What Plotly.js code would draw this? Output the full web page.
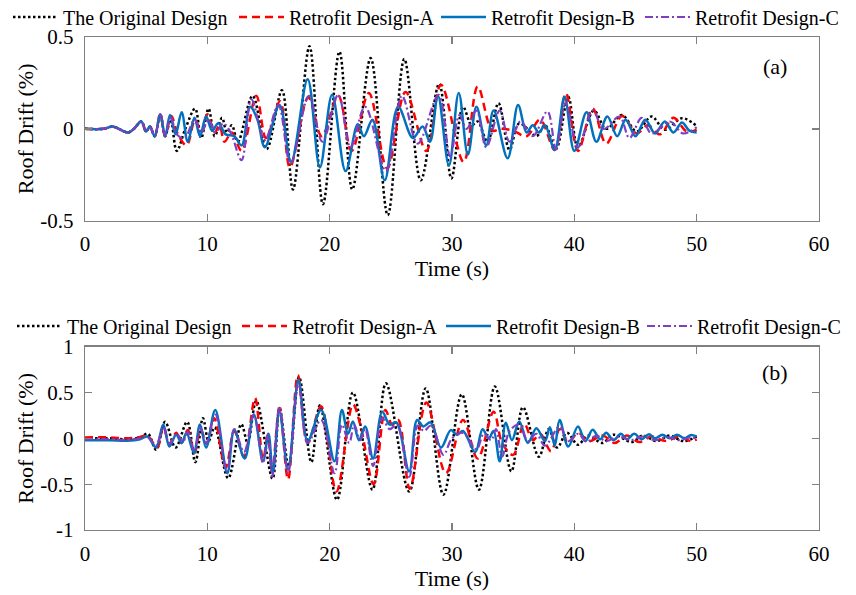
<!DOCTYPE html>
<html>
<head>
<meta charset="utf-8">
<script src="https://cdn.plot.ly/plotly-3.0.1.min.js"></script>
<style>html,body{margin:0;padding:0;background:#fff;}#chart{width:856px;height:595px;}</style>
</head>
<body>
<div id="chart"></div>
<script>
// ---------- (a) upper panel ----------
const topTimeOriginal = [0,1.5,2.3,3.5,4.0,4.6,5.0,5.3,5.7,6.15,6.55,7.0,7.5,8.2,9.0,9.5,10.1,10.6,11.2,11.6,12.0,12.5,13.7,14.85,16.1,17.0,18.35,19.45,20.8,21.85,23.35,24.75,26.1,27.45,28.95,29.95,30.9,31.6,32.1,32.9,33.8,34.7,35.5,36.9,37.6,38.5,39.5,40.3,41.6,42.6,43.9,45.1,46.3,47.4,48.8,50];
const topDriftOriginal = [0,0,0.012,-0.02,0,0.04,-0.015,0.013,-0.04,0.08,-0.04,0.05,-0.12,0.0,0.11,-0.05,0.11,-0.04,0.06,-0.02,0.02,-0.07,0.18,-0.11,0.21,-0.33,0.45,-0.41,0.42,-0.33,0.385,-0.47,0.38,-0.28,0.245,-0.27,0.12,0.02,0.04,-0.07,0.14,-0.115,0.03,-0.04,0.02,-0.11,0.175,-0.1,0.10,0.0,0.075,-0.015,0.067,-0.005,0.058,0.015];

const topTimeA = [0,1.5,2.3,3.5,4.0,4.6,5.0,5.3,5.7,6.15,6.55,7.05,7.6,8.3,9.0,9.5,10.0,10.6,11.0,11.4,12.0,12.8,14.0,14.8,15.95,16.75,18.25,19.35,20.7,21.8,23.2,24.7,26.2,27.9,29.1,30.95,32.1,33.3,34.0,35.0,36.1,37.2,38.4,39.3,40.3,41.5,42.6,43.9,45.1,46.0,47.0,48.1,49.2,50];
const topDriftA = [0,0,0.012,-0.02,0,0.04,-0.015,0.013,-0.04,0.08,-0.04,0.07,-0.03,-0.09,0.05,-0.02,0.08,-0.02,0.02,-0.07,-0.02,-0.12,0.18,-0.05,0.15,-0.21,0.17,-0.04,0.18,-0.12,0.195,-0.215,0.2,-0.12,0.24,-0.18,0.23,-0.01,0.0,-0.01,-0.04,0.05,-0.115,0.195,-0.12,0.11,-0.08,0.07,-0.025,0.02,-0.03,0.06,-0.015,-0.005];

const topTimeB = [0,1.5,2.3,3.5,4.0,4.6,5.0,5.3,5.7,6.15,6.55,6.95,7.4,7.9,8.4,8.95,9.4,9.9,10.4,10.9,11.5,12.2,12.8,13.5,14.1,14.7,15.9,16.85,18.2,19.2,20.2,21.3,22.3,22.8,23.5,24.5,25.6,26.8,27.6,28.2,28.85,29.75,30.55,31.3,32.0,32.8,33.4,34.55,35.4,36.1,36.6,37.1,37.6,38.4,39.2,40.0,41.0,41.8,42.7,43.5,44.2,45.0,45.8,46.6,47.4,48.1,48.8,49.4,50];
const topDriftB = [0,0,0.012,-0.02,0,0.04,-0.015,0.013,-0.04,0.08,-0.04,0.076,-0.03,0.09,-0.07,0.06,-0.04,0.067,-0.01,0.03,-0.03,-0.04,-0.09,0.12,0.05,-0.1,0.13,-0.18,0.27,-0.21,0.185,-0.23,0.025,-0.04,0.05,-0.28,0.12,-0.05,0.013,-0.07,0.18,-0.2,0.195,-0.14,0.12,-0.09,0.10,-0.16,0.13,-0.02,0.02,-0.02,0.02,-0.115,0.175,-0.12,0.09,-0.07,0.067,-0.04,0.05,-0.04,0.05,-0.025,0.04,-0.02,0.035,-0.01,-0.02];

const topTimeC = [0,1.5,2.3,3.5,4.0,4.6,5.0,5.3,5.7,6.15,6.55,7.0,7.5,8.15,8.95,9.5,10.1,10.7,11.3,11.9,12.8,13.6,14.7,15.8,16.8,18.3,19.4,20.7,21.7,22.9,24.6,25.9,27.2,28.9,29.85,30.6,31.2,32.0,32.8,33.9,34.7,35.6,36.6,37.8,38.5,39.3,40.3,41.5,42.4,43.7,44.5,45.5,46.3,47.8,48.9,50];
const topDriftC = [0,0,0.012,-0.02,0,0.04,-0.015,0.013,-0.04,0.08,-0.04,0.07,-0.03,-0.05,0.05,-0.02,0.05,-0.02,0.03,-0.02,-0.17,0.16,-0.06,0.13,-0.19,0.18,-0.07,0.185,-0.1,0.12,-0.23,0.18,-0.08,0.185,-0.15,0.075,0.0,0.1,-0.1,0.1,-0.07,0.04,-0.04,0.095,-0.11,0.14,-0.1,0.1,0.0,0.067,-0.05,0.06,-0.025,0.04,-0.025,0.01];

// ---------- (b) lower panel ----------
const botTimeOriginal = [0,2.0,3.4,4.5,5.14,5.82,6.55,7.4,8.35,9.02,9.64,10.1,10.6,11.7,12.78,13.3,14.0,15.33,15.9,16.65,17.5,18.5,19.2,20.6,21.9,23.5,24.6,26.5,27.85,29.3,30.8,32.2,33.5,34.85,35.8,37.1,37.9,38.6,39.4,40.3,41.1,42.3,43.2,44.7,45.6,46.7,47.8,48.9,50];
const botDriftOriginal = [0,0,-0.01,0.01,0.05,-0.125,0.18,-0.1,0.18,-0.26,0.22,-0.03,0.12,-0.435,0.155,-0.05,0.41,-0.44,0.33,-0.3,0.67,-0.26,0.36,-0.67,0.5,-0.56,0.6,-0.58,0.545,-0.615,0.48,-0.56,0.565,-0.36,0.34,-0.2,0.1,-0.1,0.06,-0.07,0.03,-0.05,0.04,-0.04,0.03,-0.03,0.03,-0.03,0.02];

const botTimeA = [0,2.0,3.4,4.5,5.1,5.9,6.4,6.9,7.45,7.9,8.4,8.95,9.45,9.95,10.55,11.5,12.2,13.0,13.9,14.55,14.95,15.3,15.9,16.6,17.4,18.2,19.3,20.55,21.9,22.5,23.6,24.55,25.1,25.6,26.55,27.9,29.5,30.9,32.1,33.4,34.1,35.0,35.9,36.6,37.2,38.1,38.8,39.5,40.3,41.2,42.3,43.3,44.3,45.3,46.3,47.5,48.6,49.5,50];
const botDriftA = [0.01,0.01,0.0,0.015,0.03,-0.1,0.13,-0.06,0.06,-0.05,0.09,-0.16,0.1,-0.06,0.22,-0.32,0.08,-0.2,0.44,-0.23,0.03,-0.36,0.33,-0.45,0.69,-0.05,0.35,-0.58,0.37,0.15,-0.5,0.31,0.15,0.2,-0.55,0.39,-0.38,0.2,-0.22,0.29,-0.05,-0.18,0.16,-0.02,0.05,-0.14,0.1,-0.05,0.06,-0.03,0.03,-0.05,0.03,-0.04,0.02,-0.03,0.02,-0.03,-0.01];

const botTimeB = [0,2.0,3.4,4.5,5.1,5.8,6.4,6.9,7.45,7.9,8.3,8.9,9.4,9.9,10.65,11.63,12.2,13.05,13.8,14.55,15.0,15.35,15.9,16.6,17.45,18.2,19.3,20.4,21.0,21.5,21.9,22.4,22.9,23.55,24.3,24.9,25.45,26.5,27.15,27.65,28.25,29.1,29.9,30.4,30.9,31.9,32.5,33.0,33.4,33.9,34.4,34.9,35.5,36.2,36.9,37.6,38.0,38.4,38.8,39.5,40.3,40.9,41.5,42.1,42.6,43.2,43.8,44.3,44.9,45.5,46.1,46.6,47.2,47.8,48.4,49.0,49.5,50];
const botDriftB = [-0.02,-0.02,-0.025,-0.01,0.02,-0.1,0.15,-0.09,0.04,-0.05,0.06,-0.16,0.15,-0.1,0.31,-0.38,0.09,-0.22,0.26,-0.25,0.05,-0.38,0.29,-0.34,0.64,-0.03,0.31,-0.25,0.31,0.05,0.185,-0.02,0.13,-0.22,0.29,0.15,0.175,-0.36,0.2,0.13,0.175,-0.1,0.09,0.04,0.08,-0.15,0.1,0.0,0.08,-0.25,0.17,-0.02,0.185,-0.05,0.11,-0.03,0.12,-0.08,0.2,-0.09,0.13,-0.03,0.095,-0.01,0.06,-0.02,0.05,-0.01,0.05,-0.01,0.045,0.0,0.04,0.0,0.04,0.0,0.035,0.02];

const botTimeC = [0,2.0,3.4,4.5,5.1,5.8,6.4,6.9,7.5,8.0,8.4,8.95,9.4,9.9,10.65,11.6,12.2,13.0,13.8,14.55,14.95,15.3,15.9,16.6,17.45,18.2,19.3,20.4,21.0,21.6,22.0,22.5,22.9,23.55,24.3,24.9,25.5,26.5,27.2,27.7,28.3,29.3,30.0,30.9,32.0,32.6,33.2,33.6,34.1,34.7,35.5,36.2,36.9,37.6,38.8,39.5,40.3,41.0,41.8,42.6,43.6,44.6,45.6,46.6,47.6,48.6,49.5,50];
const botDriftC = [-0.01,-0.01,-0.015,0.0,0.02,-0.08,0.12,-0.06,0.05,-0.04,0.07,-0.14,0.12,-0.05,0.26,-0.36,0.1,-0.15,0.26,-0.27,0.05,-0.42,0.35,-0.38,0.6,-0.05,0.2,-0.38,0.15,-0.05,0.15,-0.02,0.1,-0.3,0.22,0.1,0.15,-0.42,0.14,0.08,0.14,-0.18,0.0,0.06,-0.12,0.05,-0.02,0.1,-0.2,0.08,0.15,-0.03,0.05,-0.08,0.13,-0.03,0.05,-0.04,0.03,-0.03,0.02,-0.02,0.02,-0.02,0.01,-0.02,0.01,0.0];

// ---------- labels ----------
const seriesNames = ['The Original Design','Retrofit Design-A','Retrofit Design-B','Retrofit Design-C'];
const xTickVals = [0,10,20,30,40,50,60];
const topYTickVals = [-0.5,0,0.5];
const topYTickText = ['-0.5','0','0.5'];
const botYTickVals = [-1,-0.5,0,0.5,1];
const botYTickText = ['-1','-0.5','0','0.5','1'];

const styles = [
  {color:'#000000', width:2.5, dash:'2.5px,2.5px'},
  {color:'#FF0000', width:2.5, dash:'8px,5px'},
  {color:'#0072BD', width:2.5, dash:'solid'},
  {color:'#7E3FC0', width:2.2, dash:'8px,3px,2px,3px'}
];

const topData = [[topTimeOriginal,topDriftOriginal],[topTimeA,topDriftA],[topTimeB,topDriftB],[topTimeC,topDriftC]];
const botData = [[botTimeOriginal,botDriftOriginal],[botTimeA,botDriftA],[botTimeB,botDriftB],[botTimeC,botDriftC]];

// one legend per entry, so each entry sits where the reference puts it
const legendIds = ['legend','legend2','legend3','legend4','legend5','legend6','legend7','legend8'];

const traces = [];
topData.forEach((d,i)=>{
  traces.push({x:d[0], y:d[1], type:'scatter', mode:'lines', name:seriesNames[i],
    xaxis:'x', yaxis:'y', legend:legendIds[i],
    line:Object.assign({shape:'spline', smoothing:1}, styles[i])});
});
botData.forEach((d,i)=>{
  traces.push({x:d[0], y:d[1], type:'scatter', mode:'lines', name:seriesNames[i],
    xaxis:'x2', yaxis:'y2', legend:legendIds[4+i],
    line:Object.assign({shape:'spline', smoothing:1}, styles[i])});
});

const FONT = '"Liberation Serif", "Times New Roman", Times, serif';
const axisCommon = {
  showline:true, linecolor:'#808080', linewidth:1.3, mirror:'ticks',
  ticks:'inside', ticklen:7, tickcolor:'#808080', tickwidth:1.3,
  showgrid:false, zeroline:false,
  tickfont:{family:FONT, size:21, color:'#000'}
};
function xAxis(anchor){
  return Object.assign({}, axisCommon, {anchor:anchor, domain:[0,1], range:[0,60],
    tickmode:'array', tickvals:xTickVals, ticklabelstandoff:4,
    title:{text:'Time (s)', standoff:0, font:{family:FONT, size:22, color:'#000'}}});
}
function yAxis(anchor, dom, rng, tv, tt){
  return Object.assign({}, axisCommon, {anchor:anchor, domain:dom, range:rng,
    tickmode:'array', tickvals:tv, ticktext:tt, ticklabelstandoff:6,
    title:{text:'Roof Drift (%)', standoff:0, font:{family:FONT, size:22, color:'#000'}}});
}
const legendCommon = {orientation:'h', xanchor:'left', yanchor:'middle',
  font:{family:FONT, size:20, color:'#000'}, bgcolor:'rgba(0,0,0,0)',
  itemwidth:45, itemclick:false};
// legend anchor positions in pixels (left edge) and centre rows
const PL = 85, PW = 734, PT = 37, PH = 493;
const legendLeftPx = [8, 234, 436, 640, 12, 237, 441, 642];
const legendRowPx = [17, 17, 17, 17, 326, 326, 326, 326];

const layout = {
  width:856, height:595,
  margin:{l:PL, r:856-PL-PW, t:PT, b:595-PT-PH, autoexpand:false},
  paper_bgcolor:'#fff', plot_bgcolor:'#fff',
  font:{family:FONT, size:20, color:'#000'},
  showlegend:true,
  xaxis:xAxis('y'),
  yaxis:yAxis('x',[0.6274,1],[-0.5,0.5],topYTickVals,topYTickText),
  xaxis2:xAxis('y2'),
  yaxis2:yAxis('x2',[0,0.3718],[-1,1],botYTickVals,botYTickText),
  annotations:[
    {text:'(a)', xref:'paper', yref:'paper', x:0.94, y:0.941, xanchor:'center', yanchor:'middle', showarrow:false, font:{family:FONT, size:22, color:'#000'}},
    {text:'(b)', xref:'paper', yref:'paper', x:0.94, y:0.32, xanchor:'center', yanchor:'middle', showarrow:false, font:{family:FONT, size:22, color:'#000'}}
  ]
};
legendIds.forEach((id,k)=>{
  layout[id] = Object.assign({}, legendCommon, {
    x:(legendLeftPx[k]-PL)/PW,
    y:1 - (legendRowPx[k]-PT)/PH
  });
});

Plotly.newPlot('chart', traces, layout, {displayModeBar:false, staticPlot:true});
</script>
</body>
</html>
